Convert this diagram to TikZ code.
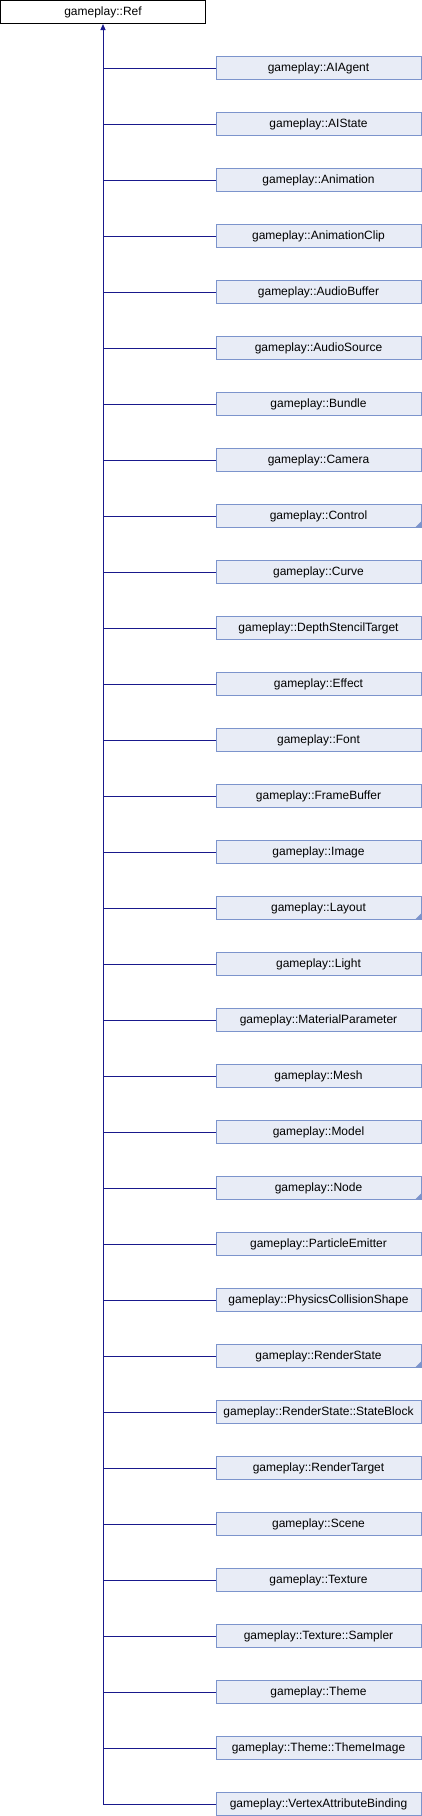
\documentclass[tikz,border=0pt]{standalone}
\usepackage{fontspec}
\setmainfont{Liberation Sans}
\usepackage{tikz}
\usetikzlibrary{arrows.meta}
\definecolor{boxfill}{RGB}{232,236,246}
\definecolor{boxline}{RGB}{124,148,204}
\definecolor{edge}{RGB}{25,25,140}
\tikzset{every picture/.style={line width=1pt}}
\tikzset{
  base/.style={draw=black, fill=white, minimum width=205, minimum height=23, inner sep=0pt, font=\fontsize{12}{14}\selectfont},
  child/.style={base, draw=boxline, fill=boxfill},
  link/.style={draw=edge}
}
\newcommand{\fold}[1]{\fill[boxline] ([shift={(-0.5,-0.5)}]#1.south east) -- ++(-6,0) -- ++(6,-6) -- cycle;}

\begin{document}
\begin{tikzpicture}[x=1pt,y=-1pt]
\useasboundingbox (0,0) rectangle (422,1816);
\node[base] (ref) at (103,12) {gameplay::Ref};
%
\node[child] (1) at (318.5,68) {gameplay::AIAgent};
\node[child] (2) at (318.5,124) {gameplay::AIState};
\node[child] (3) at (318.5,180) {gameplay::Animation};
\node[child] (4) at (318.5,236) {gameplay::AnimationClip};
\node[child] (5) at (318.5,292) {gameplay::AudioBuffer};
\node[child] (6) at (318.5,348) {gameplay::AudioSource};
\node[child] (7) at (318.5,404) {gameplay::Bundle};
\node[child] (8) at (318.5,460) {gameplay::Camera};
\node[child] (9) at (318.5,516) {gameplay::Control};
\node[child] (10) at (318.5,572) {gameplay::Curve};
\node[child] (11) at (318.5,628) {gameplay::DepthStencilTarget};
\node[child] (12) at (318.5,684) {gameplay::Effect};
\node[child] (13) at (318.5,740) {gameplay::Font};
\node[child] (14) at (318.5,796) {gameplay::FrameBuffer};
\node[child] (15) at (318.5,852) {gameplay::Image};
\node[child] (16) at (318.5,908) {gameplay::Layout};
\node[child] (17) at (318.5,964) {gameplay::Light};
\node[child] (18) at (318.5,1020) {gameplay::MaterialParameter};
\node[child] (19) at (318.5,1076) {gameplay::Mesh};
\node[child] (20) at (318.5,1132) {gameplay::Model};
\node[child] (21) at (318.5,1188) {gameplay::Node};
\node[child] (22) at (318.5,1244) {gameplay::ParticleEmitter};
\node[child] (23) at (318.5,1300) {gameplay::PhysicsCollisionShape};
\node[child] (24) at (318.5,1356) {gameplay::RenderState};
\node[child] (25) at (318.5,1412) {gameplay::RenderState::StateBlock};
\node[child] (26) at (318.5,1468) {gameplay::RenderTarget};
\node[child] (27) at (318.5,1524) {gameplay::Scene};
\node[child] (28) at (318.5,1580) {gameplay::Texture};
\node[child] (29) at (318.5,1636) {gameplay::Texture::Sampler};
\node[child] (30) at (318.5,1692) {gameplay::Theme};
\node[child] (31) at (318.5,1748) {gameplay::Theme::ThemeImage};
\node[child] (32) at (318.5,1804) {gameplay::VertexAttributeBinding};
%
\fold{9}
\fold{16}
\fold{21}
\fold{24}
%
\coordinate (bend) at (ref.south |- 32.west);
\draw[link, -{Triangle[length=6pt,width=5pt]}] (bend) -- (ref.south);
\draw[link] (ref.south |- 1.west) -- (1.west);
\draw[link] (ref.south |- 2.west) -- (2.west);
\draw[link] (ref.south |- 3.west) -- (3.west);
\draw[link] (ref.south |- 4.west) -- (4.west);
\draw[link] (ref.south |- 5.west) -- (5.west);
\draw[link] (ref.south |- 6.west) -- (6.west);
\draw[link] (ref.south |- 7.west) -- (7.west);
\draw[link] (ref.south |- 8.west) -- (8.west);
\draw[link] (ref.south |- 9.west) -- (9.west);
\draw[link] (ref.south |- 10.west) -- (10.west);
\draw[link] (ref.south |- 11.west) -- (11.west);
\draw[link] (ref.south |- 12.west) -- (12.west);
\draw[link] (ref.south |- 13.west) -- (13.west);
\draw[link] (ref.south |- 14.west) -- (14.west);
\draw[link] (ref.south |- 15.west) -- (15.west);
\draw[link] (ref.south |- 16.west) -- (16.west);
\draw[link] (ref.south |- 17.west) -- (17.west);
\draw[link] (ref.south |- 18.west) -- (18.west);
\draw[link] (ref.south |- 19.west) -- (19.west);
\draw[link] (ref.south |- 20.west) -- (20.west);
\draw[link] (ref.south |- 21.west) -- (21.west);
\draw[link] (ref.south |- 22.west) -- (22.west);
\draw[link] (ref.south |- 23.west) -- (23.west);
\draw[link] (ref.south |- 24.west) -- (24.west);
\draw[link] (ref.south |- 25.west) -- (25.west);
\draw[link] (ref.south |- 26.west) -- (26.west);
\draw[link] (ref.south |- 27.west) -- (27.west);
\draw[link] (ref.south |- 28.west) -- (28.west);
\draw[link] (ref.south |- 29.west) -- (29.west);
\draw[link] (ref.south |- 30.west) -- (30.west);
\draw[link] (ref.south |- 31.west) -- (31.west);
\draw[link] (bend) -- (32.west);
\end{tikzpicture}
\end{document}
